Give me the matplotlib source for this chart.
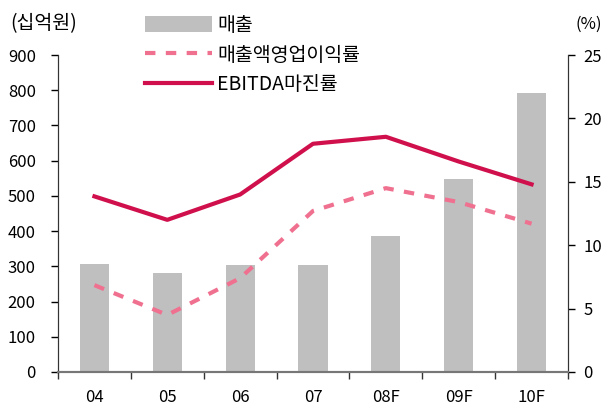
import matplotlib
matplotlib.use("Agg")
import matplotlib.pyplot as plt
from matplotlib.ticker import FixedLocator, MultipleLocator

plt.rcParams['font.family'] = ['Noto Sans CJK KR', 'DejaVu Sans']

categories = ['04', '05', '06', '07', '08F', '09F', '10F']
sales = [306, 280, 303, 303, 385, 549, 792]
op_margin = [6.85, 4.5, 7.4, 12.7, 14.5, 13.4, 11.7]
ebitda_margin = [13.85, 12.0, 14.0, 18.0, 18.55, 16.6, 14.8]

bar_color = '#BFBFBF'
op_color = '#F07090'
eb_color = '#D0104C'
fs = 12
fs_kr = 14

fig = plt.figure(figsize=(6.15, 4.09), dpi=100)
ax = fig.add_axes([58/615, 37/409, 510/615, 317/409])
ax2 = ax.twinx()

x = list(range(len(categories)))
b = ax.bar(x, sales, width=0.4, color=bar_color, zorder=1, label='매출')
l1, = ax2.plot(x, op_margin, color=op_color, lw=3, ls=(0, (2.5, 2.5)), label='매출액영업이익률')
l2, = ax2.plot(x, ebitda_margin, color=eb_color, lw=3, label='EBITDA마진률')

ax.set_xlim(-0.5, 6.5)
ax.set_ylim(0, 900)
ax2.set_ylim(0, 25)
ax.yaxis.set_major_locator(MultipleLocator(100))
ax2.yaxis.set_major_locator(MultipleLocator(5))

ax.set_xticks(x)
ax.set_xticklabels(categories, fontsize=fs)
ax.tick_params(axis='x', which='major', length=0, pad=12)
ax.xaxis.set_minor_locator(FixedLocator([i - 0.5 for i in range(len(categories) + 1)]))
ax.tick_params(axis='x', which='minor', length=5, width=1, color='#333333', direction='out')
ax.tick_params(axis='y', labelsize=fs, length=5, width=1, direction='out', pad=11)
ax2.tick_params(axis='y', labelsize=fs, length=5, width=1, direction='out', pad=6)

for a in (ax, ax2):
    a.spines['top'].set_visible(False)
    a.spines['left'].set_color('#333333')
    a.spines['right'].set_color('#333333')
    a.spines['bottom'].set_color('#777777')
    a.spines['bottom'].set_linewidth(1.5)

fig.text(10/615, 1 - 24/409, '(십억원)', fontsize=fs_kr, va='center', ha='left')
fig.text(602/615, 1 - 24/409, '(%)', fontsize=fs, va='center', ha='right')

leg = fig.legend([b, l1, l2], ['매출', '매출액영업이익률', 'EBITDA마진률'],
                 loc='upper left', bbox_to_anchor=(145/615, 1 - 15/409),
                 borderaxespad=0, borderpad=0,
                 frameon=False, fontsize=fs_kr, handlelength=3.45, handleheight=0.9,
                 handletextpad=0.25, labelspacing=0.45)

fig.savefig('out.png', dpi=100)
